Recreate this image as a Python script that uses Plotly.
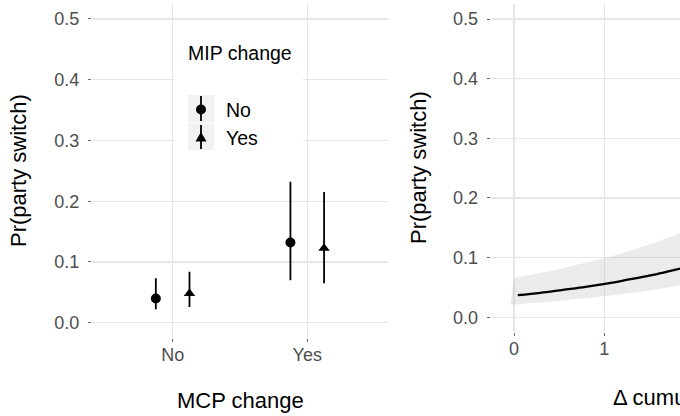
import plotly.graph_objects as go

# ---------------- data ----------------
mcp_change = ["No", "Yes"]
mip_levels = ["No", "Yes"]

# MIP change = No
est_mip_no = [0.040, 0.132]
lo_mip_no = [0.022, 0.070]
hi_mip_no = [0.073, 0.232]
# MIP change = Yes
est_mip_yes = [0.048, 0.1225]
lo_mip_yes = [0.026, 0.065]
hi_mip_yes = [0.084, 0.215]

# right panel: predicted probability over cumulative change
cum_x = [0, 0.25, 0.5, 0.75, 1.0, 1.25, 1.5, 1.75, 2.0]
cum_fit = [0.037, 0.041, 0.046, 0.051, 0.057, 0.064, 0.071, 0.080, 0.089]
cum_hi = [0.066, 0.073, 0.081, 0.090, 0.099, 0.110, 0.122, 0.136, 0.151]
cum_lo = [0.021, 0.024, 0.027, 0.031, 0.035, 0.039, 0.044, 0.050, 0.056]

y_ticks = [0.0, 0.1, 0.2, 0.3, 0.4, 0.5]
y_ticklabels = ["0.0", "0.1", "0.2", "0.3", "0.4", "0.5"]
x2_ticks = [0, 1, 2, 3, 4, 5]

# ---------------- layout helpers ----------------
W, H = 680, 416
FONT = "Liberation Sans, Arial, sans-serif"
TICK_COLOR = "#4D4D4D"
GRID = "#E6E6E6"


def px_x(p):
    return p / W


def px_y(p):
    return 1 - p / H


fig = go.Figure()

symbols = {"No": "circle", "Yes": "triangle-up"}
series = {
    "No": (est_mip_no, lo_mip_no, hi_mip_no),
    "Yes": (est_mip_yes, lo_mip_yes, hi_mip_yes),
}
for lvl in mip_levels:
    est, lo, hi = series[lvl]
    fig.add_trace(go.Scatter(
        x=mcp_change, y=est, mode="markers", name=lvl,
        offsetgroup=lvl,
        marker=dict(symbol=symbols[lvl], size=10, color="black"),
        error_y=dict(type="data", symmetric=False,
                     array=[h - e for h, e in zip(hi, est)],
                     arrayminus=[e - l for e, l in zip(est, lo)],
                     color="black", thickness=1.8, width=0),
        xaxis="x", yaxis="y", showlegend=False,
    ))

# right panel ribbon + line
fig.add_trace(go.Scatter(x=cum_x, y=cum_lo, mode="lines", line=dict(width=0, shape="spline"),
                         xaxis="x2", yaxis="y2", showlegend=False, hoverinfo="skip"))
fig.add_trace(go.Scatter(x=cum_x, y=cum_hi, mode="lines", line=dict(width=0, shape="spline"),
                         fill="tonexty", fillcolor="rgba(153,153,153,0.2)",
                         xaxis="x2", yaxis="y2", showlegend=False, hoverinfo="skip"))
fig.add_trace(go.Scatter(x=cum_x, y=cum_fit, mode="lines",
                         line=dict(color="black", width=2.3, shape="spline"),
                         xaxis="x2", yaxis="y2", showlegend=False))

axis_common = dict(
    showgrid=True, gridcolor=GRID, gridwidth=1.3, zeroline=False,
    showline=False, ticks="outside", ticklen=3, tickcolor="#666666",
    tickwidth=1, tickfont=dict(family=FONT, size=18, color=TICK_COLOR),
    automargin=False,
)

fig.update_layout(
    template="none",
    width=W, height=H,
    margin=dict(l=0, r=0, t=0, b=0, pad=0),
    paper_bgcolor="white", plot_bgcolor="white",
    scattermode="group", scattergap=0.5,
    showlegend=False,
    xaxis=dict(domain=[px_x(91.9), px_x(388)], type="category",
               categoryorder="array", categoryarray=mcp_change,
               range=[-0.6, 1.6], ticklabelstandoff=-3, **axis_common),
    yaxis=dict(domain=[px_y(337.9), px_y(3.8)], range=[-0.025, 0.525],
               tickvals=y_ticks, ticktext=y_ticklabels, ticklabelstandoff=5,
               **axis_common),
    xaxis2=dict(domain=[px_x(490.7), 1.0], range=[-0.258, 1.838],
                tickvals=x2_ticks, ticklabelstandoff=-3, anchor="y2", **axis_common),
    yaxis2=dict(domain=[px_y(332.2), px_y(4.1)], range=[-0.025, 0.525],
                tickvals=y_ticks, ticktext=y_ticklabels, ticklabelstandoff=5,
                anchor="x2", **axis_common),
)

title_font = dict(family=FONT, size=22, color="black")
legend_font = dict(family=FONT, size=19.5, color="black")


def ann(text, x, y, font, xanchor="center", angle=0):
    return dict(text=text, x=px_x(x), y=px_y(y), xref="paper", yref="paper",
                xanchor=xanchor, yanchor="middle", textangle=angle,
                showarrow=False, font=font, borderpad=0)


annotations = [
    ann("Pr(party switch)", 18, 171, title_font, angle=-90),
    ann("MCP change", 240, 400, title_font),
    ann("Pr(party switch)", 418, 168, title_font, angle=-90),
    ann("Δ cumulative MIP change", 612, 397, title_font, xanchor="left"),
    # legend
    ann("MIP change", 187, 53, legend_font, xanchor="left"),
    ann("No", 225, 109.5, legend_font, xanchor="left"),
    ann("Yes", 225, 138, legend_font, xanchor="left"),
]
fig.update_layout(annotations=annotations)

shapes = [
    # legend background
    dict(type="rect", xref="paper", yref="paper", x0=px_x(175), x1=px_x(303),
         y0=px_y(162), y1=px_y(30), fillcolor="white", line=dict(width=0), layer="above"),
    # key backgrounds
    dict(type="rect", xref="paper", yref="paper", x0=px_x(188), x1=px_x(214),
         y0=px_y(122.5), y1=px_y(95), fillcolor="#F2F2F2", line=dict(width=0), layer="above"),
    dict(type="rect", xref="paper", yref="paper", x0=px_x(188), x1=px_x(214),
         y0=px_y(150), y1=px_y(123.5), fillcolor="#F2F2F2", line=dict(width=0), layer="above"),
    # key glyph lines
    dict(type="line", xref="paper", yref="paper", x0=px_x(201), x1=px_x(201),
         y0=px_y(96), y1=px_y(121), line=dict(color="black", width=1.8), layer="above"),
    dict(type="line", xref="paper", yref="paper", x0=px_x(201), x1=px_x(201),
         y0=px_y(125), y1=px_y(149), line=dict(color="black", width=1.8), layer="above"),
    # circle glyph
    dict(type="circle", xref="paper", yref="paper", xsizemode="pixel", ysizemode="pixel",
         xanchor=px_x(201), yanchor=px_y(109.5), x0=-5, x1=5, y0=-5, y1=5,
         fillcolor="black", line=dict(width=0), layer="above"),
    # triangle glyph
    dict(type="path", xref="paper", yref="paper", xsizemode="pixel", ysizemode="pixel",
         xanchor=px_x(201), yanchor=px_y(137.5), path="M -5.5,-4 L 5.5,-4 L 0,5.5 Z",
         fillcolor="black", line=dict(width=0), layer="above"),
]
fig.update_layout(shapes=shapes)

fig.write_html(
    "out.html",
    config={"displayModeBar": False, "staticPlot": True},
    post_script="document.body.style.margin='0';document.body.style.overflow='hidden';",
)
